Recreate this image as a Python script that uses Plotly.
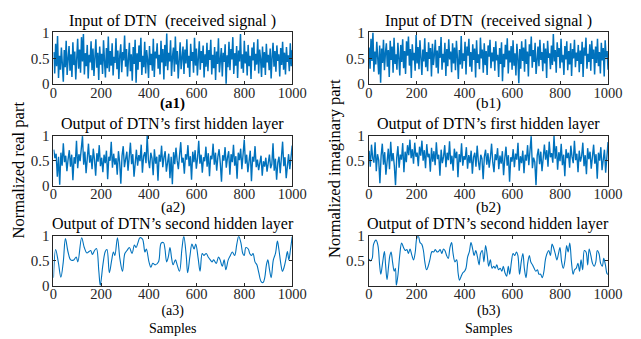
import numpy as np
import plotly.graph_objects as go

# ---- (a1) received signal, real part (every 4th sample) ----
a1_input = [
    0.62, 0.21, 0.78, 0.35, 0.93, 0.12, 0.55, 0.28, 0.71, 0.40,
    0.05, 0.66, 0.33, 0.84, 0.18, 0.49, 0.74, 0.26, 0.58, 0.14,
    0.81, 0.37, 0.63, 0.09, 0.52, 0.88, 0.30, 0.67, 0.22, 0.91,
    0.44, 0.97, 0.19, 0.60, 0.35, 0.76, 0.11, 0.57, 0.42, 0.83,
    0.27, 0.69, 0.16, 0.54, 0.87, 0.32, 0.61, 0.08, 0.73, 0.38,
    0.59, 0.20, 0.85, 0.45, 0.13, 0.70, 0.31, 0.92, 0.24, 0.64,
    0.36, 0.79, 0.17, 0.53, 0.41, 0.89, 0.29, 0.65, 0.10, 0.56,
    0.77, 0.23, 0.62, 0.46, 0.94, 0.34, 0.68, 0.15, 0.51, 0.80,
    0.25, 0.58, 0.07, 0.72, 0.39, 0.86, 0.03, 0.60, 0.28, 0.75,
    0.43, 0.90, 0.18, 0.55, 0.33, 0.82, 0.21, 0.66, 0.47, 0.12,
    0.74, 0.37, 0.59, 0.26, 0.88, 0.14, 0.63, 0.50, 0.79, 0.30,
    0.57, 0.19, 0.84, 0.42, 0.68, 0.09, 0.76, 0.35, 0.98, 0.27,
    0.61, 0.44, 0.85, 0.16, 0.53, 0.71, 0.24, 0.92, 0.38, 0.64,
    0.11, 0.58, 0.81, 0.29, 0.49, 0.73, 0.20, 0.67, 0.40, 0.87,
    0.32, 0.55, 0.14, 0.78, 0.45, 0.62, 0.22, 0.90, 0.36, 0.69,
    0.17, 0.52, 0.83, 0.28, 0.64, 0.41, 0.75, 0.13, 0.58, 0.34,
    0.80, 0.25, 0.66, 0.47, 0.86, 0.19, 0.57, 0.31, 0.72, 0.08,
    0.63, 0.39, 0.89, 0.23, 0.54, 0.70, 0.15, 0.61, 0.43, 0.77,
    0.01, 0.56, 0.33, 0.82, 0.27, 0.68, 0.48, 0.91, 0.20, 0.60,
    0.36, 0.74, 0.12, 0.65, 0.44, 0.97, 0.30, 0.58, 0.22, 0.84,
    0.40, 0.63, 0.17, 0.76, 0.35, 0.55, 0.10, 0.71, 0.46, 0.81,
    0.26, 0.59, 0.38, 0.87, 0.21, 0.67, 0.49, 0.14, 0.73, 0.32,
    0.62, 0.18, 0.78, 0.42, 0.57, 0.27, 0.69, 0.11, 0.52, 0.80,
    0.34, 0.64, 0.24, 0.75, 0.45, 0.58, 0.15, 0.70, 0.37, 0.82,
    0.28, 0.61, 0.19, 0.72, 0.43, 0.56, 0.25, 0.79, 0.35, 0.66,
]

# ---- (b1) received signal, imaginary part ----
b1_input = [
    0.71, 0.30, 0.88, 0.45, 1.00, 0.24, 0.63, 0.38, 0.82, 0.52,
    0.19, 0.75, 0.03, 0.69, 0.41, 0.86, 0.27, 0.60, 0.79, 0.34,
    0.66, 0.14, 0.84, 0.47, 0.73, 0.22, 0.90, 0.39, 0.58, 0.28,
    0.80, 0.50, 0.17, 0.76, 0.43, 0.87, 0.31, 0.64, 0.20, 0.83,
    0.55, 0.92, 0.36, 0.68, 0.12, 0.77, 0.46, 0.61, 0.26, 0.95,
    0.40, 0.72, 0.29, 0.85, 0.53, 0.18, 0.67, 0.44, 0.89, 0.33,
    0.62, 0.25, 0.81, 0.49, 0.70, 0.15, 0.78, 0.37, 0.57, 0.86,
    0.32, 0.65, 0.21, 0.74, 0.51, 0.91, 0.28, 0.59, 0.42, 0.80,
    0.16, 0.68, 0.35, 0.87, 0.48, 0.63, 0.23, 0.79, 0.40, 0.71,
    0.27, 0.84, 0.52, 0.10, 0.66, 0.38, 0.93, 0.30, 0.60, 0.45,
    0.82, 0.19, 0.73, 0.55, 0.88, 0.34, 0.62, 0.24, 0.77, 0.47,
    0.69, 0.13, 0.85, 0.41, 0.58, 0.29, 0.90, 0.50, 0.67, 0.22,
    0.79, 0.37, 0.64, 0.18, 0.75, 0.53, 0.86, 0.31, 0.61, 0.44,
    0.72, 0.26, 0.83, 0.46, 0.57, 0.14, 0.70, 0.39, 0.81, 0.06,
    0.59, 0.33, 0.76, 0.48, 0.89, 0.21, 0.65, 0.42, 0.74, 0.28,
    0.85, 0.36, 0.60, 0.17, 0.78, 0.51, 0.02, 0.68, 0.30, 0.83,
    0.45, 0.71, 0.24, 0.87, 0.39, 0.63, 0.15, 0.77, 0.54, 0.92,
    0.32, 0.66, 0.43, 0.80, 0.20, 0.58, 0.73, 0.35, 0.86, 0.47,
    0.62, 0.25, 0.79, 0.40, 0.69, 0.12, 0.84, 0.51, 0.60, 0.29,
    0.75, 0.37, 0.97, 0.44, 0.66, 0.22, 0.81, 0.53, 0.70, 0.31,
    0.88, 0.42, 0.57, 0.18, 0.74, 0.48, 0.83, 0.27, 0.64, 0.38,
    0.79, 0.16, 0.68, 0.50, 0.86, 0.33, 0.61, 0.45, 0.76, 0.23,
    0.65, 0.39, 0.82, 0.14, 0.71, 0.55, 0.90, 0.30, 0.59, 0.43,
    0.77, 0.26, 0.84, 0.49, 0.67, 0.19, 0.73, 0.41, 0.88, 0.35,
    0.62, 0.21, 0.80, 0.46, 0.70, 0.15, 0.85, 0.52, 0.64, 0.28,
]

# ---- (a2) first hidden layer output, real part (every 5th sample) ----
a2_hidden1 = [
    0.72, 0.55, 0.64, 0.18, 0.58, 0.02, 0.66, 0.40, 0.85, 0.47,
    0.60, 0.29, 0.53, 0.71, 0.38, 0.62, 0.11, 0.57, 0.44, 0.90,
    0.35, 0.63, 0.49, 0.77, 0.99, 0.42, 0.68, 0.25, 0.59, 0.84,
    0.46, 0.61, 0.33, 0.74, 0.52, 0.20, 0.65, 0.48, 0.81, 0.39,
    0.56, 0.27, 0.62, 0.45, 0.70, 0.13, 0.58, 0.50, 0.88, 0.36,
    0.64, 0.42, 0.55, 0.22, 0.69, 0.47, 0.04, 0.60, 0.79, 0.37,
    0.53, 0.68, 0.30, 0.57, 0.86, 0.43, 0.63, 0.18, 0.54, 0.72,
    0.40, 0.61, 0.49, 0.82, 0.26, 0.59, 0.67, 0.45, 1.00, 0.51,
    0.35, 0.66, 0.55, 0.21, 0.73, 0.44, 0.58, 0.10, 0.62, 0.48,
    0.80, 0.37, 0.57, 0.69, 0.28, 0.52, 0.64, 0.15, 0.58, 0.03,
    0.67, 0.43, 0.76, 0.50, 0.33, 0.61, 0.87, 0.46, 0.56, 0.24,
    0.63, 0.52, 0.81, 0.39, 0.59, 0.12, 0.68, 0.47, 0.71, 0.34,
    0.55, 0.90, 0.44, 0.62, 0.26, 0.57, 0.49, 0.78, 0.38, 0.65,
    0.19, 0.60, 0.53, 0.84, 0.42, 0.66, 0.30, 0.58, 0.73, 0.45,
    0.08, 0.61, 0.50, 0.77, 0.36, 0.56, 0.69, 0.22, 0.63, 0.47,
    0.82, 0.40, 0.59, 0.14, 0.66, 0.51, 0.74, 0.33, 0.57, 0.92,
    0.44, 0.62, 0.27, 0.55, 0.70, 0.09, 0.58, 0.48, 0.79, 0.37,
    0.52, 0.31, 0.45, 0.60, 0.20, 0.49, 0.38, 0.56, 0.28, 0.47,
    0.62, 0.35, 0.43, 0.85, 0.30, 0.54, 0.12, 0.46, 0.58, 0.25,
    0.51, 0.88, 0.39, 0.57, 0.15, 0.48, 0.63, 0.33, 0.55, 0.80,
]

# ---- (b2) first hidden layer output, imaginary part ----
b2_hidden1 = [
    0.70, 0.38, 0.82, 0.55, 0.46, 0.87, 0.29, 0.63, 0.51, 0.05,
    0.60, 0.84, 0.42, 0.67, 0.22, 0.58, 0.74, 0.33, 0.88, 0.49,
    0.65, 0.40, 0.01, 0.56, 0.79, 0.36, 0.62, 0.52, 0.85, 0.27,
    0.68, 0.47, 0.81, 0.61, 0.92, 0.55, 0.73, 0.44, 0.86, 0.58,
    0.66, 0.39, 0.78, 0.60, 0.90, 0.50, 0.71, 0.35, 0.83, 0.57,
    0.64, 0.28, 0.76, 0.48, 0.69, 0.41, 0.87, 0.53, 0.62, 0.20,
    0.72, 0.45, 0.58, 0.81, 0.37, 0.66, 0.51, 0.89, 0.43, 0.60,
    0.30, 0.74, 0.55, 0.68, 0.17, 0.63, 0.47, 0.85, 0.40, 0.59,
    0.52, 0.77, 0.34, 0.61, 0.45, 0.70, 0.24, 0.57, 0.66, 0.38,
    0.80, 0.49, 0.31, 0.62, 0.54, 0.13, 0.58, 0.72, 0.42, 0.65,
    0.36, 0.56, 0.84, 0.47, 0.27, 0.63, 0.51, 0.75, 0.33, 0.60,
    0.44, 0.69, 0.21, 0.55, 0.78, 0.40, 0.61, 0.08, 0.57, 0.48,
    0.73, 0.37, 0.64, 0.52, 0.86, 0.30, 0.59, 0.45, 0.70, 0.25,
    0.62, 0.50, 0.81, 0.41, 0.66, 0.99, 0.35, 0.56, 0.47, 0.01,
    0.60, 0.74, 0.43, 0.68, 0.29, 0.63, 0.82, 0.52, 0.71, 0.38,
    0.88, 0.57, 0.65, 0.46, 1.00, 0.54, 0.79, 0.32, 0.67, 0.49,
    0.84, 0.41, 0.62, 0.19, 0.73, 0.55, 0.66, 0.36, 0.80, 0.58,
    0.45, 0.90, 0.51, 0.64, 0.27, 0.70, 0.48, 0.59, 0.86, 0.39,
    0.61, 0.23, 0.75, 0.53, 0.68, 0.34, 0.57, 0.82, 0.44, 0.63,
    0.14, 0.66, 0.50, 0.77, 0.31, 0.58, 0.72, 0.26, 0.54, 0.87,
]

# ---- (a3) second hidden layer output, real part ----
a3_samples = [
    0, 9, 20, 31, 41, 50, 61, 72, 85, 95, 102, 118, 129, 140, 149, 156, 163, 172,
    180, 190, 196, 207, 217, 224, 234, 244, 251, 257, 268, 278, 289, 299, 308, 318,
    329, 339, 346, 354, 362, 373, 383, 389, 400, 408, 416, 427, 440, 451, 461, 467,
    474, 481, 488, 495, 501, 511, 518, 528, 538, 546, 556, 562, 572, 580, 589, 596,
    606, 614, 623, 630, 640, 648, 657, 664, 671, 682, 691, 698, 707, 715, 722, 732,
    741, 749, 759, 768, 776, 785, 793, 799, 806, 816, 822, 829, 836, 844, 852, 860,
    870, 878, 885, 892, 898, 905, 912, 921, 930, 938, 944, 953, 959, 966, 973, 980,
    986, 993, 1000,
]
a3_hidden2 = [
    0.16, 0.73, 0.48, 0.17, 0.48, 0.95, 0.68, 0.52, 0.52, 0.58, 0.48, 0.97, 0.77, 0.66,
    0.69, 0.71, 0.63, 0.71, 0.75, 0.29, 0.00, 0.42, 0.69, 0.73, 0.26, 0.52, 0.68, 0.61,
    0.97, 0.55, 0.29, 0.65, 0.71, 0.77, 0.65, 0.82, 0.77, 0.87, 0.97, 0.94, 0.68, 0.74,
    0.48, 0.37, 0.45, 0.42, 0.48, 0.86, 0.87, 0.74, 0.48, 0.58, 0.77, 0.55, 0.42, 0.52,
    0.42, 0.29, 0.74, 1.00, 0.61, 0.26, 0.61, 0.84, 0.74, 0.84, 0.55, 0.29, 0.65, 0.61,
    0.65, 0.58, 0.52, 0.48, 0.52, 0.45, 0.58, 0.52, 0.39, 0.52, 0.32, 0.52, 0.61, 0.68,
    0.61, 0.84, 1.00, 0.87, 0.65, 0.61, 0.77, 0.74, 0.65, 0.61, 0.65, 0.48, 0.42, 0.26,
    0.08, 0.06, 0.16, 0.42, 0.52, 0.32, 0.16, 0.52, 0.65, 0.90, 0.74, 0.42, 0.29, 0.37,
    0.52, 0.69, 0.52, 0.74, 0.99,
]

# ---- (b3) second hidden layer output, imaginary part ----
b3_samples = [
    0, 7, 14, 20, 30, 38, 45, 50, 58, 65, 70, 76, 83, 88, 93, 99, 106, 111, 115, 122,
    129, 137, 145, 152, 159, 165, 172, 180, 187, 194, 201, 207, 214, 221, 228, 234,
    241, 248, 255, 264, 271, 278, 285, 291, 298, 305, 312, 318, 325, 332, 339, 346,
    352, 360, 367, 373, 379, 386, 393, 400, 406, 413, 420, 427, 434, 440, 447, 454,
    461, 467, 474, 481, 488, 495, 501, 508, 515, 522, 528, 535, 542, 549, 556, 562,
    569, 576, 583, 589, 596, 603, 610, 617, 623, 630, 637, 644, 650, 657, 664, 671,
    677, 684, 691, 698, 705, 711, 718, 725, 732, 738, 745, 752, 759, 766, 772, 779,
    786, 793, 799, 806, 813, 820, 827, 833, 840, 847, 854, 860, 867, 874, 881, 887,
    894, 901, 908, 915, 921, 928, 935, 942, 949, 955, 962, 969, 976, 982, 989, 996,
    1000,
]
b3_hidden2 = [
    0.54, 0.50, 0.55, 0.84, 0.92, 0.81, 0.42, 0.23, 0.48, 0.69, 0.42, 0.12, 0.42, 0.61,
    0.68, 0.48, 0.29, 0.35, 0.00, 0.23, 0.61, 0.86, 0.77, 0.71, 0.73, 0.65, 0.74, 0.61,
    0.52, 0.68, 0.97, 1.00, 0.87, 0.84, 0.71, 0.48, 0.32, 0.39, 0.52, 0.69, 0.68, 0.73,
    0.68, 0.69, 0.73, 0.65, 0.74, 0.71, 0.61, 0.55, 0.77, 0.87, 0.65, 0.48, 0.52, 0.26,
    0.11, 0.19, 0.26, 0.29, 0.35, 0.58, 0.68, 0.87, 0.74, 0.61, 0.71, 0.58, 0.42, 0.65,
    0.71, 0.48, 0.81, 0.61, 0.39, 0.52, 0.35, 0.39, 0.35, 0.42, 0.32, 0.35, 0.29, 0.39,
    0.26, 0.19, 0.39, 0.23, 0.48, 0.65, 0.61, 0.68, 0.61, 0.23, 0.48, 0.65, 0.35, 0.16,
    0.45, 0.61, 0.48, 0.42, 0.35, 0.29, 0.32, 0.23, 0.23, 0.16, 0.29, 0.52, 0.65, 0.71,
    0.61, 0.84, 0.77, 0.65, 0.52, 0.65, 0.77, 0.48, 0.35, 0.52, 0.81, 0.68, 0.86, 0.48,
    0.23, 0.32, 0.35, 0.45, 0.29, 0.52, 0.32, 0.71, 0.68, 0.42, 0.74, 0.61, 0.45, 0.39,
    0.48, 0.71, 0.65, 0.45, 0.39, 0.55, 0.42, 0.24, 0.23,
]

panel_titles = [
    "Input of DTN  (received signal )",
    "Output of DTN\u2019s first hidden layer",
    "Output of DTN\u2019s second hidden layer",
]
panel_tags = [["<b>(a1)</b>", "(a2)", "(a3)"], ["(b1)", "(b2)", "(b3)"]]
x_ticks = [0, 200, 400, 600, 800, 1000]
x_label = "Samples"
y_labels = ["Normalized real part", "Normalized imaginary part"]

LINE = "#0072BD"
INK = "#262626"
FONT = "Liberation Serif, Times New Roman, serif"
W, H = 641, 339

# plot-box edges in pixels
col_px = [(51, 297), (376, 622.5)]
row_px = [(25.7, 80), (134, 186.5), (239.5, 291.3)]
tag_gap = [20, 23, 23]


def sample_axis(n):
    return np.linspace(1, 1000, n)


series = [
    [(sample_axis(len(a1_input)), a1_input, "linear", 1.5),
     (sample_axis(len(a2_hidden1)), a2_hidden1, "linear", 1.4),
     (a3_samples, a3_hidden2, "spline", 1.1)],
    [(sample_axis(len(b1_input)), b1_input, "linear", 1.5),
     (sample_axis(len(b2_hidden1)), b2_hidden1, "linear", 1.4),
     (b3_samples, b3_hidden2, "spline", 1.1)],
]

fig = go.Figure()
annotations = []
k = 0
for c in range(2):
    x0, x1 = col_px[c]
    xc = (x0 + x1) / 2 / W
    for r in range(3):
        k += 1
        top, bot = row_px[r]
        xa = "xaxis" if k == 1 else f"xaxis{k}"
        ya = "yaxis" if k == 1 else f"yaxis{k}"
        xs, ys, shape, lw = series[c][r]
        fig.add_trace(go.Scatter(
            x=xs, y=ys, mode="lines",
            line=dict(color=LINE, width=lw, shape=shape, smoothing=1.0),
            xaxis=f"x{k}" if k > 1 else "x", yaxis=f"y{k}" if k > 1 else "y",
            showlegend=False, hoverinfo="skip",
        ))
        yt = [0, 0.5, 1] if (c == 0 or r == 0) else [0.5, 1]
        fig.layout[xa] = dict(
            domain=[x0 / W, x1 / W], range=[0, 1000], anchor=f"y{k}" if k > 1 else "y",
            tickvals=x_ticks, ticks="inside", ticklen=3, tickcolor=INK,
            ticklabelstandoff=-5,
            showline=True, linecolor=INK, linewidth=1, mirror="allticks",
            showgrid=False, zeroline=False,
            tickfont=dict(family=FONT, size=14.5, color=INK),
        )
        fig.layout[ya] = dict(
            domain=[1 - bot / H, 1 - top / H], range=[0, 1], anchor=f"x{k}" if k > 1 else "x",
            tickvals=yt, ticktext=[f"{v:g}" for v in yt],
            ticks="inside", ticklen=3, tickcolor=INK,
            showline=True, linecolor=INK, linewidth=1, mirror="allticks",
            showgrid=False, zeroline=False,
            tickfont=dict(family=FONT, size=15, color=INK),
        )
        annotations.append(dict(
            text=panel_titles[r], x=xc, y=1 - (top - 1) / H, xref="paper", yref="paper",
            xanchor="center", yanchor="bottom", showarrow=False,
            font=dict(family=FONT, size=16, color="black"),
        ))
        if r < 2:
            annotations.append(dict(
                text=panel_tags[c][r], x=xc, y=1 - (bot + tag_gap[r]) / H,
                xref="paper", yref="paper",
                xanchor="center", yanchor="middle", showarrow=False,
                font=dict(family=FONT, size=15, color="black"),
            ))
    # bottom row: panel tag with the shared x-axis label underneath
    annotations.append(dict(
        text=panel_tags[c][2] + "<br>" + x_label, x=xc, y=1 - 327 / H,
        xref="paper", yref="paper",
        xanchor="center", yanchor="middle", showarrow=False,
        font=dict(family=FONT, size=14, color="black"),
    ))

annotations.append(dict(
    text=y_labels[0], x=15 / W, y=1 - 170 / H, xref="paper", yref="paper",
    xanchor="center", yanchor="middle", textangle=-90, showarrow=False,
    font=dict(family=FONT, size=16.5, color="black"),
))
annotations.append(dict(
    text=y_labels[1], x=340 / W, y=1 - 168 / H, xref="paper", yref="paper",
    xanchor="center", yanchor="middle", textangle=-90, showarrow=False,
    font=dict(family=FONT, size=16.5, color="black"),
))

fig.update_layout(
    width=W, height=H, margin=dict(l=0, r=0, t=0, b=0),
    paper_bgcolor="white", plot_bgcolor="white",
    annotations=annotations,
)

fig.write_html("out.html")
